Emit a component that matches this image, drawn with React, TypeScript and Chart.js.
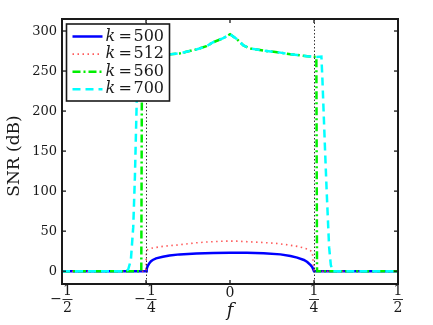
import React, { useEffect, useRef } from 'react';
import { Chart, registerables } from 'chart.js';

Chart.register(...registerables);

// ---- Data ----
const k500F = [-0.5, -0.25, -0.248, -0.245, -0.24, -0.235, -0.23, -0.22, -0.2, -0.18, -0.15, -0.1, -0.05, 0, 0.05, 0.1, 0.15, 0.18, 0.2, 0.22, 0.23, 0.24, 0.245, 0.25, 0.5];
const k500Snr = [0, 0, 3, 6.5, 10, 12.5, 14, 16, 18, 19.5, 21, 22, 22.8, 23, 23, 22.5, 21, 19, 17, 14, 11.5, 7.5, 5, 0, 0];

const k512F = [-0.5, -0.25, -0.249, -0.245, -0.23, -0.2, -0.15, -0.13, -0.1, -0.06, -0.02, 0, 0.02, 0.06, 0.1, 0.14, 0.17, 0.2, 0.22, 0.235, 0.245, 0.25, 0.5];
const k512Snr = [0, 0, 24, 27, 29, 31, 33, 34, 35.5, 36.7, 37.5, 37.5, 37.5, 36.7, 35.8, 34.6, 33, 31, 29, 27, 24, 0, 0];

const k560F = [-0.5, -0.264, -0.262, -0.25, -0.2, -0.15, -0.13, -0.1, -0.07, -0.05, -0.02, 0, 0.02, 0.04, 0.06, 0.08, 0.1, 0.13, 0.15, 0.18, 0.2, 0.23, 0.257, 0.259, 0.5];
const k560Snr = [0, 0, 268, 268, 270, 272, 274, 277, 281, 286, 291, 296, 290, 282, 278, 277, 275.5, 274, 273, 271, 270, 268.5, 267.5, 0, 0];

const k700F = [-0.5, -0.31, -0.303, -0.295, -0.288, -0.283, -0.278, -0.274, -0.25, -0.2, -0.15, -0.13, -0.1, -0.07, -0.05, -0.02, 0, 0.02, 0.04, 0.06, 0.08, 0.1, 0.13, 0.15, 0.18, 0.2, 0.23, 0.257, 0.272, 0.275, 0.283, 0.288, 0.295, 0.3, 0.305, 0.5];
const k700Snr = [0, 0, 2, 14, 55, 118, 205, 268, 268, 270, 272, 274, 277, 281, 286, 291, 296, 290, 282, 278, 277, 275.5, 274, 273, 271, 270, 268.5, 267.5, 268, 240, 150, 97, 30, 8, 0, 0];

const legendValues = ['500', '512', '560', '700'];
const yTicks = [0, 50, 100, 150, 200, 250, 300];
const xTicks = [-0.5, -0.25, 0, 0.25, 0.5];
const xTickSigns = ['\u2212', '\u2212', '', '', ''];
const xTickNums = ['1', '1', '0', '1', '1'];
const xTickDens = ['2', '4', '', '4', '2'];
const edgeFreqs = [-0.25, 0.25];
const yLabel = 'SNR (dB)';
const xLabel = 'f';

const FONT = '"DejaVu Serif", serif';
const INK = '#1a1a1a';

function toPoints(xs: number[], ys: number[]) {
  return xs.map((x, i) => ({ x, y: ys[i] }));
}

const decorPlugin = {
  id: 'decor',
  afterDatasetsDraw(chart: any) {
    const { ctx, chartArea: a, scales } = chart;
    const xs = scales.x;
    const ys = scales.y;
    ctx.save();

    // dotted vertical lines at +-1/4
    ctx.strokeStyle = '#333';
    ctx.lineWidth = 1;
    ctx.setLineDash([1.5, 2]);
    edgeFreqs.forEach((f) => {
      const px = Math.round(xs.getPixelForValue(f)) + 0.5;
      ctx.beginPath();
      ctx.moveTo(px, a.top);
      ctx.lineTo(px, a.bottom);
      ctx.stroke();
    });
    ctx.setLineDash([]);

    // axes box
    ctx.strokeStyle = INK;
    ctx.lineWidth = 2;
    ctx.strokeRect(a.left, a.top, a.right - a.left, a.bottom - a.top);

    // inward ticks
    ctx.lineWidth = 1.3;
    const seg = (x1: number, y1: number, x2: number, y2: number) => {
      ctx.beginPath();
      ctx.moveTo(x1, y1);
      ctx.lineTo(x2, y2);
      ctx.stroke();
    };
    yTicks.forEach((v) => {
      const py = ys.getPixelForValue(v);
      seg(a.left, py, a.left + 4, py);
      seg(a.right, py, a.right - 4, py);
    });
    xTicks.forEach((v) => {
      const px = xs.getPixelForValue(v);
      seg(px, a.bottom, px, a.bottom - 4);
      seg(px, a.top, px, a.top + 4);
    });

    // y tick labels
    ctx.fillStyle = INK;
    ctx.font = `13px ${FONT}`;
    ctx.textAlign = 'right';
    ctx.textBaseline = 'middle';
    yTicks.forEach((v) => {
      ctx.fillText(String(v), a.left - 5, ys.getPixelForValue(v) + 0.5);
    });

    // x tick labels (fractions)
    ctx.font = `14px ${FONT}`;
    ctx.textAlign = 'center';
    xTicks.forEach((v, i) => {
      const px = xs.getPixelForValue(v);
      if (!xTickDens[i]) {
        ctx.fillText(xTickNums[i], px, 293.5);
        return;
      }
      const hasSign = !!xTickSigns[i];
      const fracW = 10;
      const signW = 9;
      const total = hasSign ? signW + 2 + fracW : fracW;
      const fx = hasSign ? px - total / 2 + signW + 2 + fracW / 2 : px;
      if (hasSign) {
        ctx.fillText(xTickSigns[i], px - total / 2 + signW / 2, 299);
      }
      ctx.fillText(xTickNums[i], fx, 291);
      ctx.fillText(xTickDens[i], fx, 308);
      ctx.lineWidth = 0.9;
      seg(fx - fracW / 2, 299.5, fx + fracW / 2, 299.5);
    });

    // axis titles
    ctx.font = `italic 18px ${FONT}`;
    ctx.textAlign = 'center';
    ctx.fillText(xLabel, xs.getPixelForValue(0), 311);
    ctx.save();
    ctx.translate(15, 156);
    ctx.rotate(-Math.PI / 2);
    ctx.font = `17px ${FONT}`;
    ctx.fillText(yLabel, 0, 0);
    ctx.restore();

    // legend
    const lx = a.left + 4.5;
    const ly = a.top + 5;
    const lw = 103;
    const lh = 77;
    ctx.fillStyle = '#fff';
    ctx.fillRect(lx, ly, lw, lh);
    ctx.strokeStyle = INK;
    ctx.lineWidth = 1.6;
    ctx.strokeRect(lx, ly, lw, lh);
    chart.data.datasets.forEach((ds: any, i: number) => {
      const rowY = ly + 12.5 + i * 17.6;
      ctx.strokeStyle = ds.borderColor;
      ctx.lineWidth = ds.borderWidth;
      ctx.setLineDash(ds.borderDash || []);
      seg(lx + 6, rowY, lx + 36, rowY);
      ctx.setLineDash([]);
      ctx.fillStyle = INK;
      ctx.textAlign = 'left';
      ctx.font = `italic 16px ${FONT}`;
      ctx.fillText('k', lx + 39, rowY);
      ctx.font = `16px ${FONT}`;
      ctx.fillText('=', lx + 52, rowY);
      ctx.fillText(legendValues[i], lx + 67, rowY);
    });

    ctx.restore();
  },
};

export default function App() {
  const canvasRef = useRef<HTMLCanvasElement | null>(null);

  useEffect(() => {
    document.body.style.margin = '0';
    const canvas = canvasRef.current;
    if (!canvas) return;
    const chart = new Chart(canvas, {
      type: 'line',
      data: {
        datasets: [
          {
            label: 'k = 500',
            data: toPoints(k500F, k500Snr),
            borderColor: '#0000ff',
            borderWidth: 2.5,
            borderDash: [],
            pointRadius: 0,
            order: 4,
          },
          {
            label: 'k = 512',
            data: toPoints(k512F, k512Snr),
            borderColor: 'rgba(255,60,60,0.85)',
            borderWidth: 1.6,
            borderDash: [1.5, 3.5],
            pointRadius: 0,
            order: 3,
          },
          {
            label: 'k = 560',
            data: toPoints(k560F, k560Snr),
            borderColor: '#00ee00',
            borderWidth: 2.5,
            borderDash: [8, 3, 2, 3],
            pointRadius: 0,
            order: 2,
          },
          {
            label: 'k = 700',
            data: toPoints(k700F, k700Snr),
            borderColor: '#00ffff',
            borderWidth: 2.5,
            borderDash: [8, 5],
            pointRadius: 0,
            order: 1,
          },
        ],
      },
      options: {
        responsive: false,
        animation: false,
        layout: { padding: { left: 62, right: 35, top: 19, bottom: 41 } },
        plugins: {
          legend: { display: false },
          tooltip: { enabled: false },
          title: { display: false },
        },
        elements: { line: { tension: 0 } },
        scales: {
          x: { type: 'linear', display: false, min: -0.5, max: 0.5 },
          y: { type: 'linear', display: false, min: -16, max: 315 },
        },
      },
      plugins: [decorPlugin],
    } as any);
    return () => chart.destroy();
  }, []);

  return (
    <div style={{ width: 433, height: 325 }}>
      <canvas ref={canvasRef} width={433} height={325} style={{ display: 'block' }} />
    </div>
  );
}
